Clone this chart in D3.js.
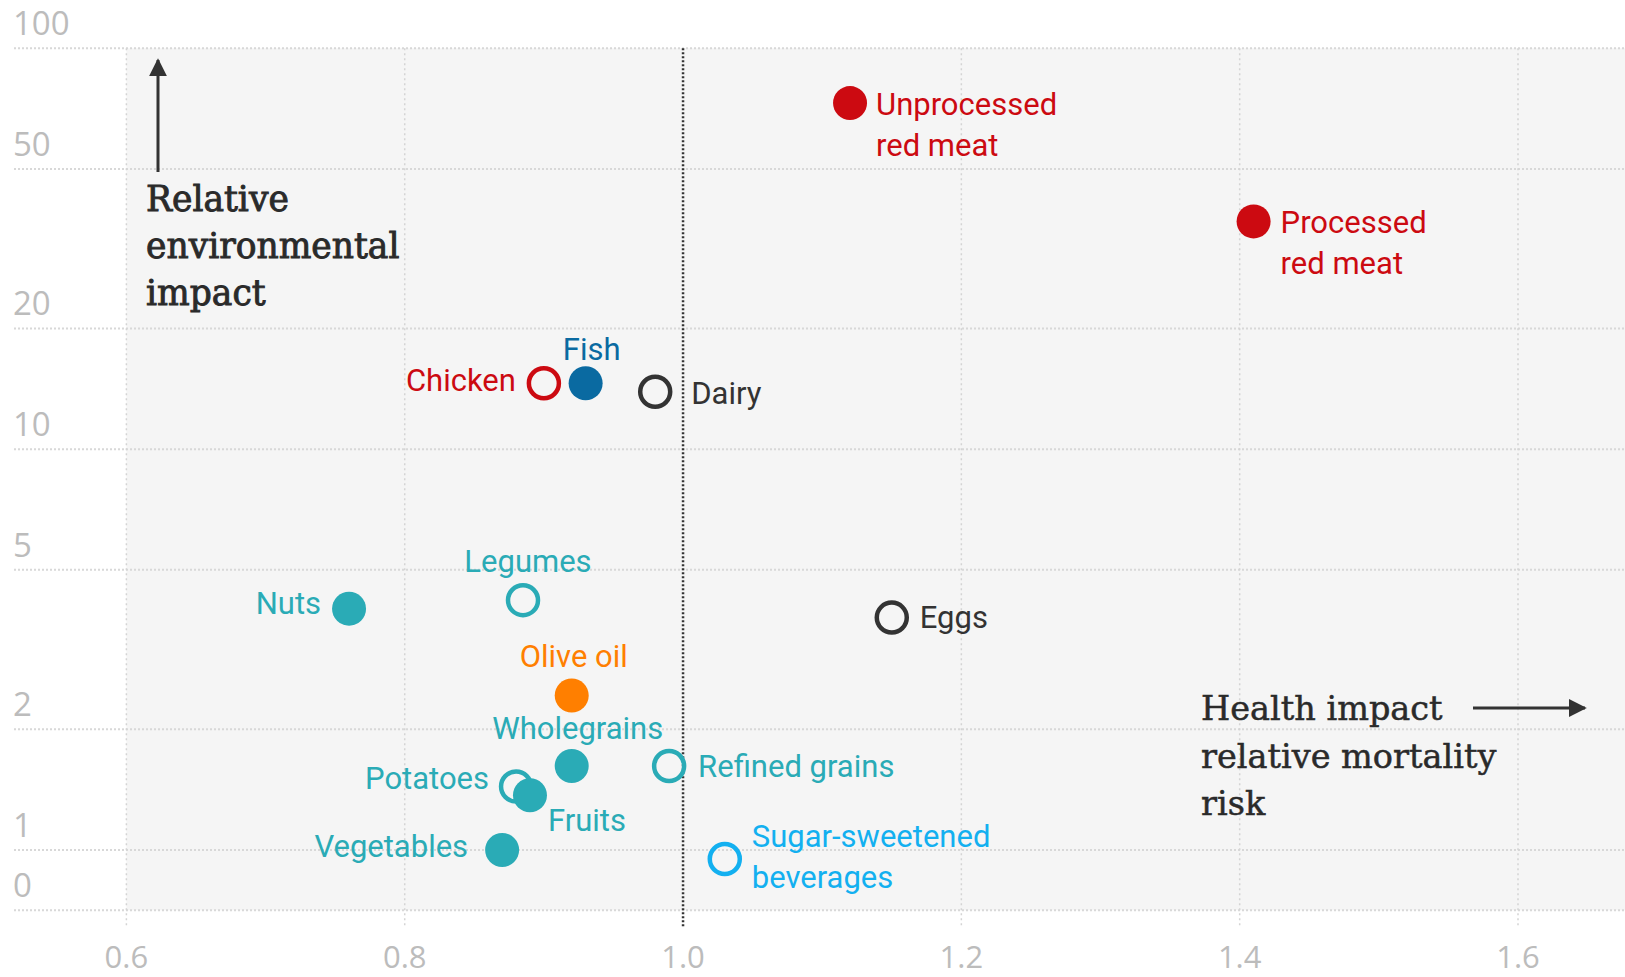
<!doctype html>
<html>
<head>
<meta charset="utf-8"/>
<title>Health vs environmental impact of foods</title>
<script src="https://cdnjs.cloudflare.com/ajax/libs/d3/7.8.5/d3.min.js"></script>
<style>
  body { margin: 0; background: #fff; }
  .hgrid { stroke: #d8d8d8; stroke-width: 2px; stroke-dasharray: 2,2; }
  .vgrid { stroke: #d4d4d4; stroke-width: 1.5px; stroke-dasharray: 2,3; }
  .one { stroke: #333; stroke-width: 2.5px; stroke-dasharray: 2,2; }
  .tick { font-family: "Open Sans", Lato, sans-serif; font-size: 33px; fill: #bcbcbc; }
  .xtick { font-size: 31px; }
  .lbl { font-family: Roboto, "Noto Sans", sans-serif; font-size: 31px; }
  .note { font-family: "DejaVu Serif", serif; fill: #2a2a2a; }
</style>
</head>
<body>
<svg width="1625" height="977"></svg>
<script>
var foods = ["Unprocessed red meat", "Processed red meat", "Chicken", "Fish", "Dairy", "Eggs",
  "Nuts", "Legumes", "Olive oil", "Wholegrains", "Refined grains", "Potatoes", "Fruits",
  "Vegetables", "Sugar-sweetened beverages"];
// relative mortality risk
var health = [1.12, 1.41, 0.90, 0.93, 0.98, 1.15, 0.76, 0.885, 0.92, 0.92, 0.99, 0.88, 0.89, 0.87, 1.03];
// relative environmental impact
var env = [73, 37, 14.6, 14.6, 13.9, 3.8, 4.0, 4.2, 2.43, 1.62, 1.62, 1.44, 1.37, 1.0, 0.95];
var hollow = [false, false, true, false, true, true, false, true, false, false, true, true, false, false, true];
var group = ["red", "red", "red", "fish", "neutral", "neutral", "plant", "plant", "oil", "plant",
  "plant", "plant", "plant", "plant", "sugar"];

var xTicks = [0.6, 0.8, 1.0, 1.2, 1.4, 1.6];
var yTicks = [0, 1, 2, 5, 10, 20, 50, 100];

var colour = {red: "#cc0a11", fish: "#0a6aa1", neutral: "#333333", plant: "#2aabb6",
  oil: "#ff7f00", sugar: "#13b0f0"};

// where each label sits next to its dot
var place = {
  "Unprocessed red meat": {a: "start", dx: 26, dy: 12, lines: ["Unprocessed", "red meat"]},
  "Processed red meat": {a: "start", dx: 27, dy: 12, lines: ["Processed", "red meat"]},
  "Chicken": {a: "end", dx: -28, dy: 8},
  "Fish": {a: "middle", dx: 6, dy: -23},
  "Dairy": {a: "start", dx: 36, dy: 12},
  "Eggs": {a: "start", dx: 28, dy: 10},
  "Nuts": {a: "end", dx: -28, dy: 5},
  "Legumes": {a: "middle", dx: 5, dy: -28},
  "Olive oil": {a: "middle", dx: 2, dy: -28},
  "Wholegrains": {a: "middle", dx: 6, dy: -27},
  "Refined grains": {a: "start", dx: 29, dy: 11},
  "Potatoes": {a: "end", dx: -27, dy: 2},
  "Fruits": {a: "start", dx: 18, dy: 36},
  "Vegetables": {a: "end", dx: -34, dy: 7},
  "Sugar-sweetened beverages": {a: "start", dx: 27, dy: -12, lines: ["Sugar-sweetened", "beverages"]}
};

var W = 1625, H = 977;
var svg = d3.select("svg");

var x = d3.scaleLinear().domain([0.6, 1.6]).range([126.4, 1518]);
var y = d3.scaleLog().domain([1, 100]).range([850, 48.3]);
// "0" sits half a step below 1 on the log axis
var yPos = v => v === 0 ? y(Math.SQRT1_2) : y(v);

var data = foods.map((f, i) => ({name: f, h: health[i], e: env[i], hollow: hollow[i], c: colour[group[i]]}));

// plot background
svg.append("rect")
  .attr("x", x(0.6)).attr("y", y(100))
  .attr("width", W - x(0.6)).attr("height", yPos(0) - y(100))
  .attr("fill", "#f5f5f5");

// horizontal grid + labels
svg.append("g").selectAll("line").data(yTicks).enter().append("line")
  .attr("class", "hgrid")
  .attr("x1", 14).attr("x2", W)
  .attr("y1", d => yPos(d)).attr("y2", d => yPos(d));
svg.append("g").selectAll("text").data(yTicks).enter().append("text")
  .attr("class", "tick")
  .attr("x", 13).attr("y", d => yPos(d) - 13)
  .text(d => d);

// vertical grid + labels
var bottom = yPos(0) + 17;
svg.append("g").selectAll("line").data(xTicks.filter(d => d !== 1.0)).enter().append("line")
  .attr("class", "vgrid")
  .attr("x1", d => x(d)).attr("x2", d => x(d))
  .attr("y1", y(100)).attr("y2", bottom);
svg.append("line").attr("class", "one")
  .attr("x1", x(1)).attr("x2", x(1))
  .attr("y1", y(100)).attr("y2", bottom);
svg.append("g").selectAll("text").data(xTicks).enter().append("text")
  .attr("class", "tick xtick")
  .attr("x", d => x(d)).attr("y", 968)
  .attr("text-anchor", "middle")
  .text(d => d3.format(".1f")(d));

// dots
svg.append("g").selectAll("circle").data(data).enter().append("circle")
  .attr("cx", d => x(d.h)).attr("cy", d => y(d.e))
  .attr("r", d => d.hollow ? 15 : 17)
  .attr("fill", d => d.hollow ? "none" : d.c)
  .attr("stroke", d => d.hollow ? d.c : "none")
  .attr("stroke-width", 4.5);

// labels
var lbl = svg.append("g").selectAll("text").data(data).enter().append("text")
  .attr("class", "lbl")
  .attr("fill", d => d.c)
  .attr("text-anchor", d => place[d.name].a)
  .attr("x", d => x(d.h) + place[d.name].dx)
  .attr("y", d => y(d.e) + place[d.name].dy);
lbl.each(function(d) {
  var p = place[d.name];
  var lines = p.lines || [d.name];
  d3.select(this).selectAll("tspan").data(lines).enter().append("tspan")
    .attr("x", x(d.h) + p.dx)
    .attr("dy", (l, i) => i ? 41 : 0)
    .text(l => l);
});

// arrow heads
svg.append("defs").append("marker")
  .attr("id", "head").attr("viewBox", "0 0 10 10")
  .attr("refX", 9).attr("refY", 5)
  .attr("markerWidth", 6).attr("markerHeight", 6)
  .attr("markerUnits", "strokeWidth")
  .attr("orient", "auto")
  .append("path").attr("d", "M0,0L10,5L0,10Z").attr("fill", "#333");

// y annotation
svg.append("line")
  .attr("x1", 158).attr("x2", 158).attr("y1", 172).attr("y2", 60)
  .attr("stroke", "#333").attr("stroke-width", 3).attr("marker-end", "url(#head)");
svg.append("text").attr("class", "note")
  .style("font-size", "34.5px")
  .attr("stroke", "#2a2a2a").attr("stroke-width", 0.9)
  .selectAll("tspan").data(["Relative", "environmental", "impact"]).enter().append("tspan")
  .attr("x", 146).attr("y", (d, i) => 211 + i * 47)
  .text(d => d);

// x annotation
svg.append("line")
  .attr("x1", 1473).attr("x2", 1585).attr("y1", 708).attr("y2", 708)
  .attr("stroke", "#333").attr("stroke-width", 3).attr("marker-end", "url(#head)");
svg.append("text").attr("class", "note")
  .style("font-size", "33.5px")
  .attr("stroke", "#2a2a2a").attr("stroke-width", 0.5)
  .selectAll("tspan").data(["Health impact", "relative mortality", "risk"]).enter().append("tspan")
  .attr("x", 1201).attr("y", (d, i) => 720 + i * 47.5)
  .text(d => d);
</script>
</body>
</html>
